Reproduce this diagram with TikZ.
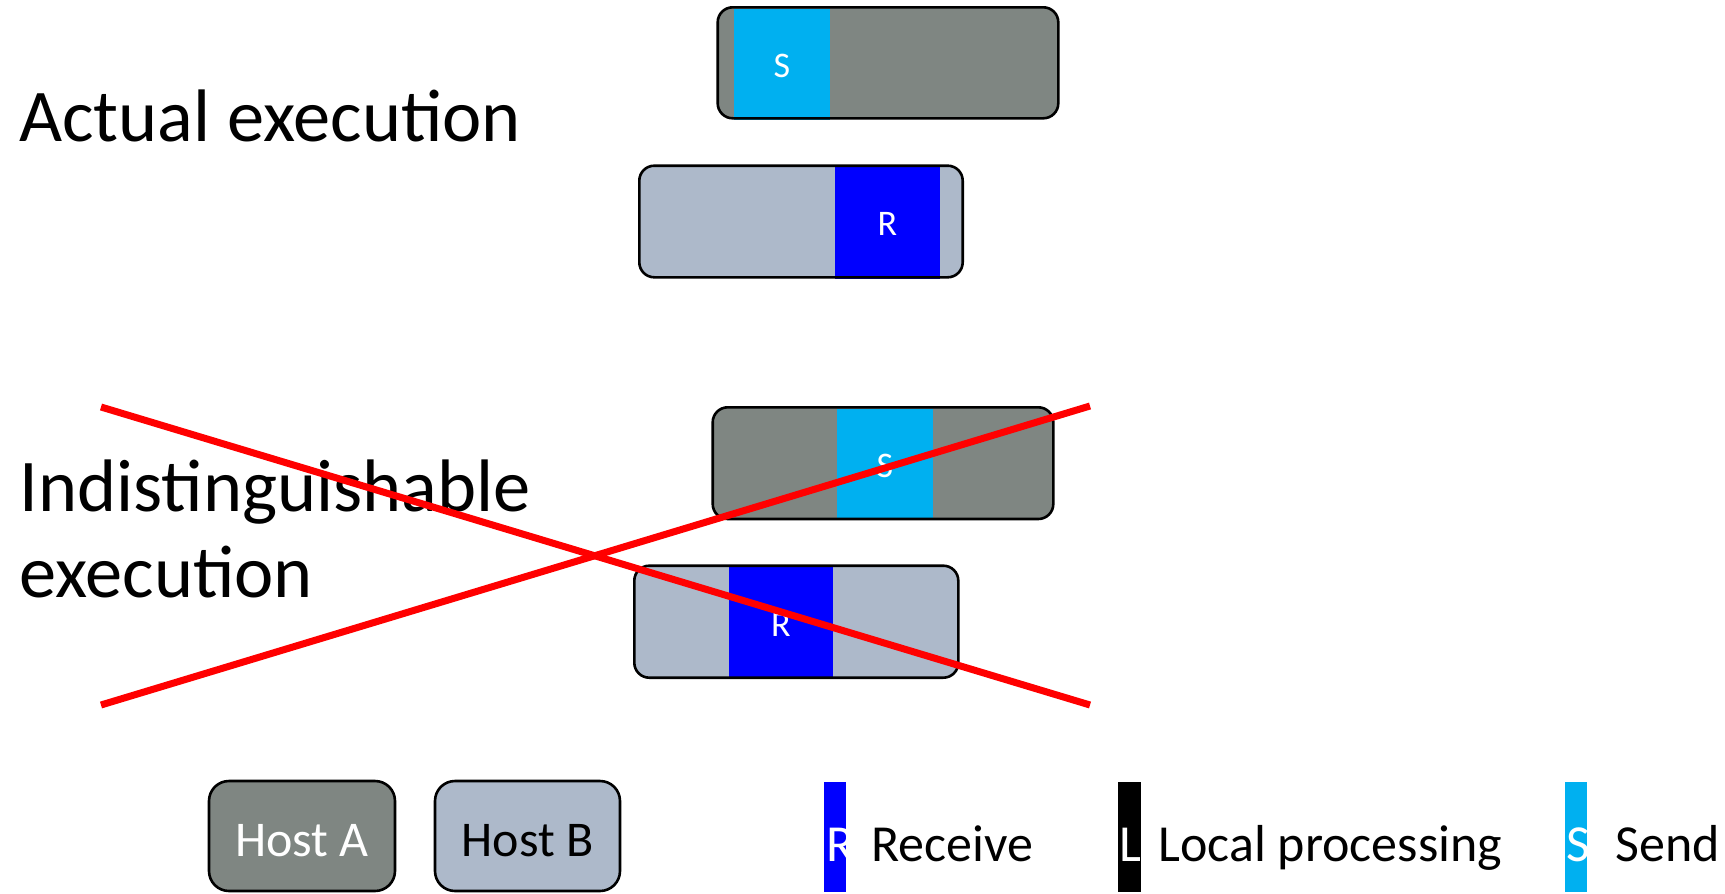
\documentclass[tikz,border=0pt]{standalone}
\usepackage{fontspec}
\setmainfont{Carlito}
\definecolor{hostA}{HTML}{7F8682}
\definecolor{hostB}{HTML}{ADB9CA}
\definecolor{sendc}{HTML}{00B0F0}
\definecolor{recvc}{HTML}{0000FF}
\definecolor{crossc}{HTML}{FF0000}
\tikzset{
  hostbox/.style={draw=black, line width=1.3pt, rounded corners=7.5pt},
  keybox/.style={draw=black, line width=1.3pt, rounded corners=10pt},
  seglabel/.style={text=white, font=\fontsize{18}{18}\selectfont, inner sep=0pt},
  title/.style={anchor=base west, inner sep=0pt, font=\fontsize{37.2}{37.2}\selectfont},
  keyname/.style={anchor=base, inner sep=0pt, font=\fontsize{25}{25}\selectfont},
  keyletter/.style={text=white, inner sep=0pt, anchor=base west, font=\fontsize{26}{26}\selectfont},
  keytext/.style={anchor=base west, inner sep=0pt, font=\fontsize{26}{26}\selectfont},
  crossline/.style={draw=crossc, line width=3.5pt}
}
\begin{document}
\begin{tikzpicture}[x=0.5pt,y=-0.5pt]
\useasboundingbox (0,0) rectangle (1725,894);

% actual execution
\node[title] (t1) at (19,141) {Actual execution};
\fill[hostA, rounded corners=7.5pt] (717.7,7.3) rectangle (1058.3,118.3);
\fill[sendc] (733.7,8.6) rectangle (830,119.6);
\draw[hostbox] (717.7,7.3) rectangle (1058.3,118.3);
\node[seglabel] (s1) at (781.8,66) {S};

\fill[hostB, rounded corners=7.5pt] (639.3,165.7) rectangle (962.7,277.3);
\fill[recvc] (835,167) rectangle (940,278.6);
\draw[hostbox] (639.3,165.7) rectangle (962.7,277.3);
\node[seglabel] (r1) at (887.5,224) {R};

% indistinguishable execution
\node[title] (t2) at (19,511) {Indistinguishable};
\node[title] (t3) at (19,597) {execution};
\fill[hostA, rounded corners=7.5pt] (712.7,407.3) rectangle (1053.3,519);
\fill[sendc] (836.7,408.6) rectangle (933.3,520.3);
\draw[hostbox] (712.7,407.3) rectangle (1053.3,519);
\node[seglabel] (s2) at (885,466) {S};

\fill[hostB, rounded corners=7.5pt] (634.3,565.7) rectangle (958.3,677.7);
\fill[recvc] (729,567) rectangle (833.3,679);
\draw[hostbox] (634.3,565.7) rectangle (958.3,677.7);
\node[seglabel] (r2) at (781,625) {R};

% the cross
\coordinate (xa) at (101,407);
\coordinate (xb) at (1090,705);
\coordinate (xc) at (101,705);
\coordinate (xd) at (1090,406);
\draw[crossline] (xa) -- (xb);
\draw[crossline] (xc) -- (xd);

% legend
\draw[keybox, fill=hostA] (209,781) rectangle (395,891);
\node[keyname, text=white] (ka) at (302,856) {Host A};
\draw[keybox, fill=hostB] (435,781) rectangle (620,891);
\node[keyname, text=black] (kb) at (527.5,856) {Host B};

\fill[recvc] (824,782) rectangle (846,892);
\node[keyletter] (kr) at (826,861) {R};
\node[keytext] (lr) at (871,861) {Receive};

\fill[black] (1118,782) rectangle (1141,892);
\node[keyletter] (kl) at (1119,861) {L};
\node[keytext] (ll) at (1158,861) {Local processing};

\fill[sendc] (1565,782) rectangle (1587,892);
\node[keyletter] (ks) at (1566,861) {S};
\node[keytext] (ls) at (1615,861) {Send};
\end{tikzpicture}
\end{document}
